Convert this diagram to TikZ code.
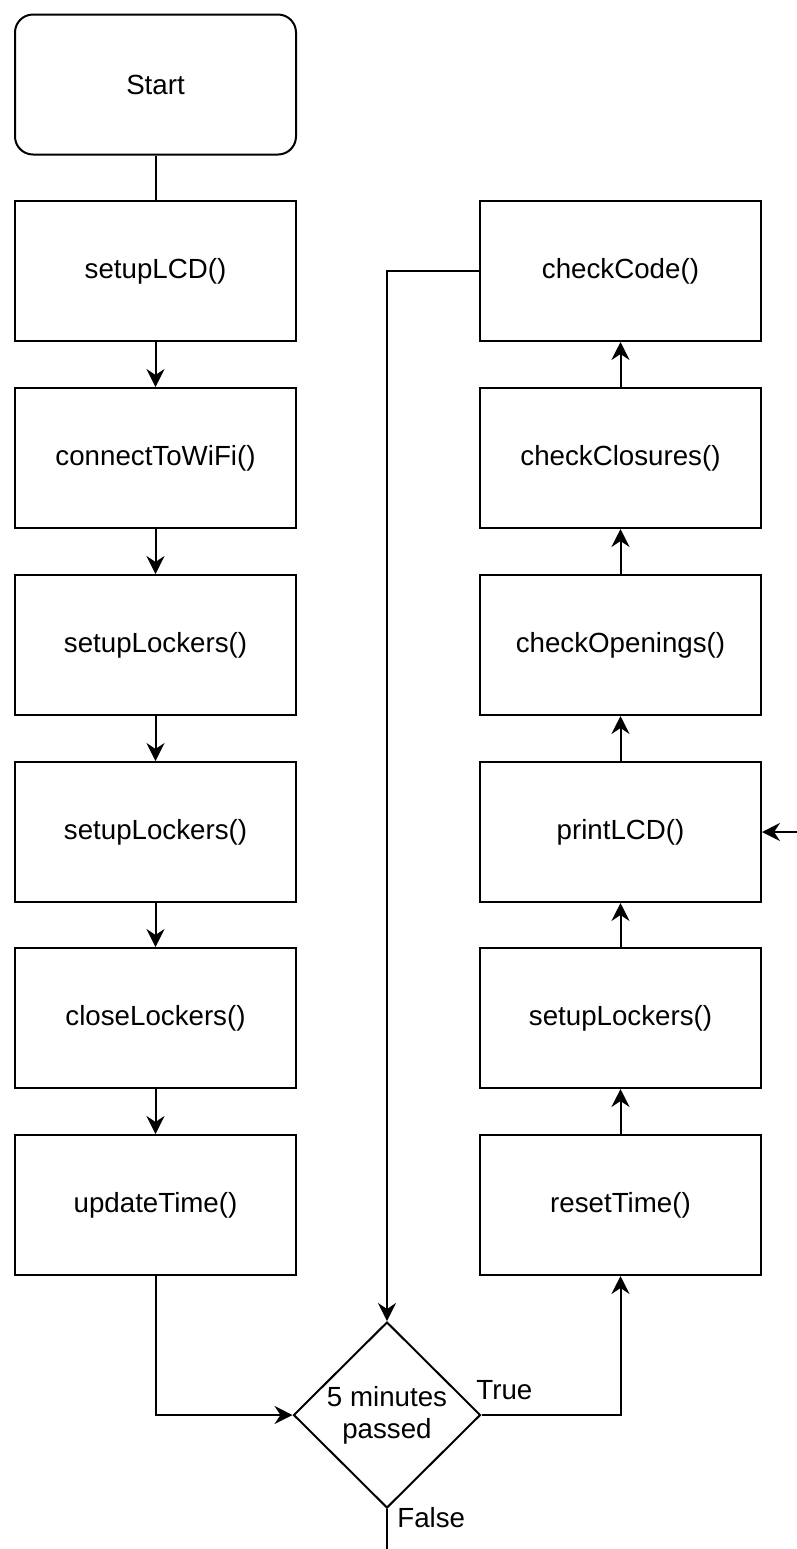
\documentclass[tikz,border=0pt]{standalone}
\usepackage{fontspec}
\setmainfont{Liberation Sans}
\usetikzlibrary{arrows.meta,shapes.geometric}
\begin{document}
\begin{tikzpicture}[x=0.5pt,y=-0.5pt,
  txt/.style={font=\fontsize{13.85}{16}\selectfont},
  box/.style={txt, draw, line width=1pt, minimum width=140.5pt, minimum height=70pt, inner sep=0pt},
  startbox/.style={box, rounded corners=9pt},
  decision/.style={txt, draw, line width=1pt, diamond, aspect=1, inner sep=0pt, minimum width=93.5pt, minimum height=93pt, align=center},
  link/.style={line width=1pt},
  arr/.style={link, -{Stealth[length=9pt,width=9pt,inset=3pt]}}
]
\useasboundingbox (0,0) rectangle (797,1549);
% left column
\node[startbox] (start) at (155.5,84.5) {Start};
\node[box] (lcd)   at (155.5,271) {setupLCD()};
\node[box] (wifi)  at (155.5,458) {connectToWiFi()};
\node[box] (lock1) at (155.5,645) {setupLockers()};
\node[box] (lock2) at (155.5,832) {setupLockers()};
\node[box] (close) at (155.5,1018) {closeLockers()};
\node[box] (upd)   at (155.5,1205) {updateTime()};
% right column
\node[box] (code)  at (620.5,271) {checkCode()};
\node[box] (clos)  at (620.5,458) {checkClosures()};
\node[box] (open)  at (620.5,645) {checkOpenings()};
\node[box] (print) at (620.5,832) {printLCD()};
\node[box] (lock3) at (620.5,1018) {setupLockers()};
\node[box] (reset) at (620.5,1205) {resetTime()};
% decision
\node[decision] (dec) at (387,1415) {5 minutes\\passed};
\node[txt, anchor=west, inner sep=0pt] (true) at (476,1390) {True};
\node[txt, anchor=west, inner sep=0pt] (false) at (397,1518) {False};
\coordinate (falseend) at (387,1549);
\coordinate (inprint) at (797,832);
% connectors
\draw[link] (start) -- (lcd);
\draw[arr] (lcd) -- (wifi);
\draw[arr] (wifi) -- (lock1);
\draw[arr] (lock1) -- (lock2);
\draw[arr] (lock2) -- (close);
\draw[arr] (close) -- (upd);
\draw[arr] (upd.south) |- (dec.west);
\draw[arr] (dec.east) -| (reset.south);
\draw[arr] (reset) -- (lock3);
\draw[arr] (lock3) -- (print);
\draw[arr] (print) -- (open);
\draw[arr] (open) -- (clos);
\draw[arr] (clos) -- (code);
\draw[arr] (code.west) -| (dec.north);
\draw[link] (dec.south) -- (falseend);
\draw[arr] (inprint) -- (print.east);
\end{tikzpicture}
\end{document}
